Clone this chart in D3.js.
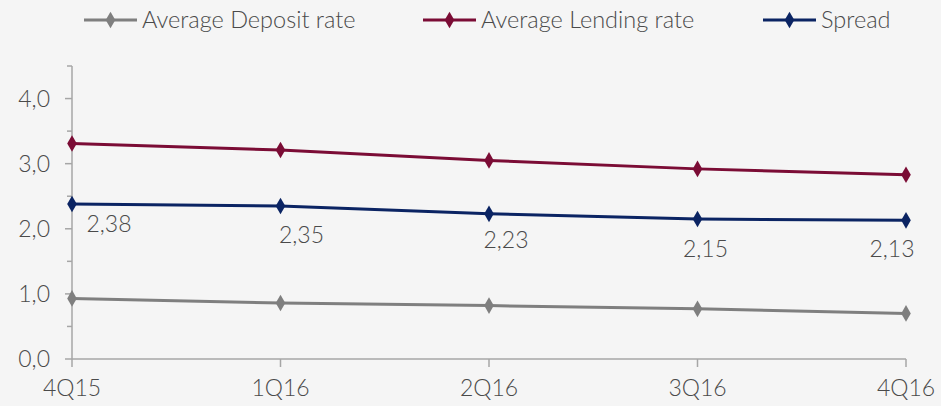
<!DOCTYPE html>
<html>
<head>
<meta charset="utf-8">
<script src="https://cdn.jsdelivr.net/npm/d3@7"></script>
<style>
    body { margin: 0; background: #f5f5f5; }
    svg { display: block; font-family: "Lato Light", Lato, sans-serif; font-weight: 300; }
</style>
</head>
<body>
<svg id="chart" width="941" height="406"></svg>
<script>
var quarters = ['4Q15', '1Q16', '2Q16', '3Q16', '4Q16'];
var depositRate = [0.93, 0.86, 0.82, 0.77, 0.70];
var lendingRate = [3.31, 3.21, 3.05, 2.92, 2.83];
var spread = [2.38, 2.35, 2.23, 2.15, 2.13];
var yTicks = [0, 1, 2, 3, 4];

// manual data label nudges, like the excel original
var labelNudge = [[37, 28], [21, 37], [17, 34], [8, 38], [-14, 37]];

var series = [
    { name: 'Average Deposit rate', values: depositRate, color: '#7f7f7f' },
    { name: 'Average Lending rate', values: lendingRate, color: '#7b0c35' },
    { name: 'Spread', values: spread, color: '#0b2463' }
];

var svg = d3.select('#chart');
var margin = { top: 66, left: 72, right: 35, bottom: 47 };
var width = 941 - margin.left - margin.right;
var height = 406 - margin.top - margin.bottom;

svg.append('rect')
    .attr('width', '100%')
    .attr('height', '100%')
    .attr('fill', '#f5f5f5');

var x = d3.scalePoint().domain(quarters).range([0, width]);
var y = d3.scaleLinear().domain([0, 4.5]).range([height, 0]);

var g = svg.append('g')
    .attr('transform', 'translate(' + margin.left + ',' + margin.top + ')');

var axisColor = '#a6a6a6';
var textColor = '#4a4a4a';

// y axis: minor ticks first, then majors with labels
var yAxis = g.append('g');
yAxis.append('line')
    .attr('y1', 0).attr('y2', height)
    .attr('stroke', axisColor).attr('stroke-width', 1.5);
yAxis.selectAll('.minor')
    .data(d3.range(0.5, 4.6, 1))
    .enter().append('line')
    .attr('x1', -5).attr('x2', 0)
    .attr('y1', function(d) { return y(d); })
    .attr('y2', function(d) { return y(d); })
    .attr('stroke', axisColor).attr('stroke-width', 1.5);
yAxis.selectAll('.major')
    .data(yTicks)
    .enter().append('line')
    .attr('x1', -7).attr('x2', 0)
    .attr('y1', function(d) { return y(d); })
    .attr('y2', function(d) { return y(d); })
    .attr('stroke', axisColor).attr('stroke-width', 1.5);
yAxis.selectAll('text')
    .data(yTicks)
    .enter().append('text')
    .attr('x', -22)
    .attr('y', function(d) { return y(d); })
    .attr('dy', '0.35em')
    .attr('text-anchor', 'end')
    .attr('font-size', 23)
    .attr('fill', textColor)
    .text(function(d) { return d3.format('.1f')(d).replace('.', ','); });

// x axis
var xAxis = g.append('g').attr('transform', 'translate(0,' + height + ')');
xAxis.append('line')
    .attr('x1', 0).attr('x2', width)
    .attr('stroke', axisColor).attr('stroke-width', 1.5);
xAxis.selectAll('.tick')
    .data(quarters)
    .enter().append('line')
    .attr('x1', function(d) { return x(d); })
    .attr('x2', function(d) { return x(d); })
    .attr('y1', 0).attr('y2', 8)
    .attr('stroke', axisColor).attr('stroke-width', 1.5);
xAxis.selectAll('text')
    .data(quarters)
    .enter().append('text')
    .attr('x', function(d) { return x(d); })
    .attr('y', 37)
    .attr('text-anchor', 'middle')
    .attr('font-size', 23)
    .attr('fill', textColor)
    .text(function(d) { return d; });

var line = d3.line()
    .x(function(d, i) { return x(quarters[i]); })
    .y(function(d) { return y(d); });

var diamond = d3.symbol().type(d3.symbolDiamond).size(80);

series.forEach(function(s) {
    g.append('path')
        .datum(s.values)
        .attr('d', line)
        .attr('fill', 'none')
        .attr('stroke', s.color)
        .attr('stroke-width', 3);

    g.selectAll(null)
        .data(s.values)
        .enter().append('path')
        .attr('d', diamond)
        .attr('transform', function(d, i) {
            return 'translate(' + x(quarters[i]) + ',' + y(d) + ')';
        })
        .attr('fill', s.color);
});

// spread data labels
g.selectAll('.label')
    .data(spread)
    .enter().append('text')
    .attr('x', function(d, i) { return x(quarters[i]) + labelNudge[i][0]; })
    .attr('y', function(d, i) { return y(d) + labelNudge[i][1]; })
    .attr('text-anchor', 'middle')
    .attr('font-size', 23)
    .attr('fill', textColor)
    .text(function(d) { return d3.format('.2f')(d).replace('.', ','); });

// legend
var legendX = [84, 423, 763];
var legend = svg.append('g');
series.forEach(function(s, i) {
    var item = legend.append('g')
        .attr('transform', 'translate(' + legendX[i] + ',20)');
    item.append('line')
        .attr('x1', 0).attr('x2', 53)
        .attr('stroke', s.color).attr('stroke-width', 3);
    item.append('path')
        .attr('d', diamond)
        .attr('transform', 'translate(26.5,0)')
        .attr('fill', s.color);
    item.append('text')
        .attr('x', 58)
        .attr('dy', '0.35em')
        .attr('font-size', 23.5)
        .attr('fill', textColor)
        .text(s.name);
});
</script>
</body>
</html>
